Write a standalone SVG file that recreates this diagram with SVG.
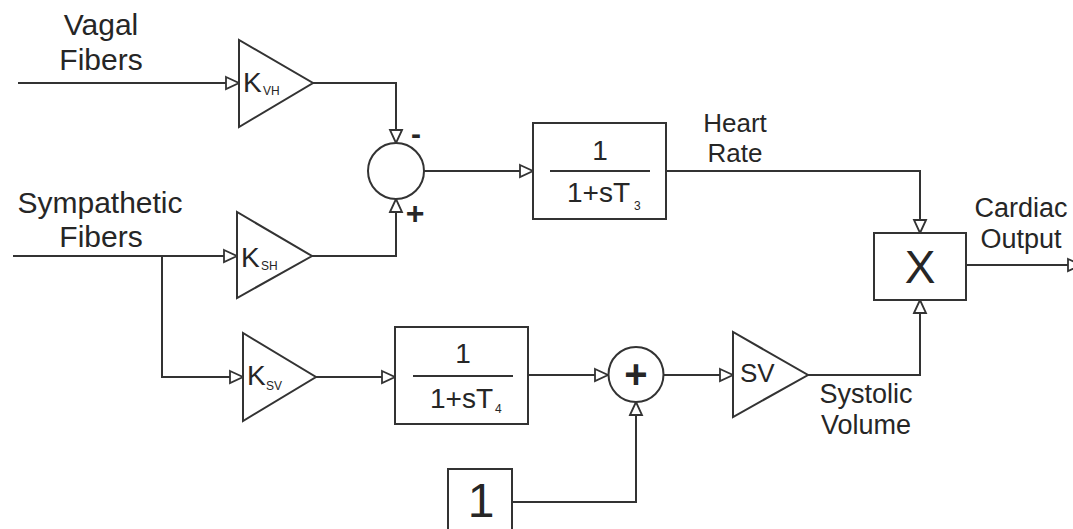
<svg xmlns="http://www.w3.org/2000/svg" width="1073" height="529" viewBox="0 0 1073 529">
<defs>
<style>
.s{fill:none;stroke:#333;stroke-width:2}
.b{fill:#fff;stroke:#333;stroke-width:2}
.t{font-family:"Liberation Sans",Arial,sans-serif;fill:#262626}
.w{marker-end:url(#ah)}
</style>
<marker id="ah" markerUnits="userSpaceOnUse" markerWidth="16" markerHeight="16" refX="14" refY="7" orient="auto" overflow="visible">
<path d="M1,1 L14,7 L1,13 Z" fill="#fff" stroke="#333" stroke-width="1.8"/>
</marker>
</defs>
<rect width="1073" height="529" fill="#fff"/>

<g id="labels" class="t">
<text x="101" y="35" font-size="30" text-anchor="middle">Vagal</text>
<text x="101" y="70" font-size="30" text-anchor="middle">Fibers</text>
<text x="100" y="213" font-size="30" text-anchor="middle">Sympathetic</text>
<text x="101" y="247" font-size="30" text-anchor="middle">Fibers</text>
<text x="735" y="132" font-size="26" text-anchor="middle">Heart</text>
<text x="735" y="162" font-size="26" text-anchor="middle">Rate</text>
<text x="1021" y="217" font-size="27" text-anchor="middle">Cardiac</text>
<text x="1021" y="248" font-size="27" text-anchor="middle">Output</text>
<text x="866" y="403" font-size="27" text-anchor="middle">Systolic</text>
<text x="866" y="434" font-size="27" text-anchor="middle">Volume</text>
</g>

<g id="connectors">
<path class="s w" d="M18,83 L239,83"/>
<path class="s w" d="M313,83 L396,83 L396,143"/>
<path class="s w" d="M13,256 L237,256"/>
<path class="s w" d="M312,256 L396,256 L396,199"/>
<path class="s w" d="M162,256 L162,377 L243,377"/>
<path class="s w" d="M424,171 L533,171"/>
<path class="s w" d="M666,171 L920,171 L920,233"/>
<path class="s w" d="M966,265 L1081,265"/>
<path class="s w" d="M316,377 L395,377"/>
<path class="s w" d="M528,375 L608,375"/>
<path class="s w" d="M512,502 L636,502 L636,402"/>
<path class="s w" d="M663,375 L733,375"/>
<path class="s w" d="M808,375 L920,375 L920,300"/>
</g>

<g id="kvh">
<polygon class="b" points="239,40 239,127 313,83"/>
<text class="t" x="243" y="92" font-size="28">K</text>
<text class="t" x="263" y="95" font-size="12">VH</text>
</g>

<g id="ksh">
<polygon class="b" points="237,212 237,298 312,256"/>
<text class="t" x="241" y="267" font-size="28">K</text>
<text class="t" x="261" y="270" font-size="12">SH</text>
</g>

<g id="ksv">
<polygon class="b" points="243,333 243,421 316,377"/>
<text class="t" x="247" y="385" font-size="28">K</text>
<text class="t" x="266" y="390" font-size="12">SV</text>
</g>

<g id="sum1">
<circle class="b" cx="396" cy="171" r="28"/>
<text class="t" x="416" y="144" font-size="30" font-weight="bold" text-anchor="middle">-</text>
<text class="t" x="415" y="224" font-size="32" font-weight="bold" text-anchor="middle">+</text>
</g>

<g id="t3">
<rect class="b" x="533" y="123" width="133" height="96"/>
<line class="s" x1="550" y1="171" x2="650" y2="171"/>
<text class="t" x="600" y="160" font-size="28" text-anchor="middle">1</text>
<text class="t" x="567" y="202" font-size="28">1+sT</text>
<text class="t" x="634" y="210" font-size="12">3</text>
</g>

<g id="mult">
<rect class="b" x="874" y="233" width="92" height="67"/>
<text class="t" x="920" y="283" font-size="46" text-anchor="middle">X</text>
</g>

<g id="t4">
<rect class="b" x="395" y="327" width="133" height="97"/>
<line class="s" x1="413" y1="376" x2="513" y2="376"/>
<text class="t" x="463" y="363" font-size="28" text-anchor="middle">1</text>
<text class="t" x="430" y="408" font-size="28">1+sT</text>
<text class="t" x="495" y="413" font-size="12">4</text>
</g>

<g id="sum2">
<circle class="b" cx="636" cy="374.5" r="27.5"/>
<text class="t" x="636" y="388" font-size="40" font-weight="bold" text-anchor="middle">+</text>
</g>

<g id="sv">
<polygon class="b" points="733,332 733,417 808,375"/>
<text class="t" x="740" y="382" font-size="26">SV</text>
</g>

<g id="const">
<rect class="b" x="448" y="469" width="64" height="70"/>
<text class="t" x="481" y="517" font-size="48" text-anchor="middle">1</text>
</g>
</svg>
